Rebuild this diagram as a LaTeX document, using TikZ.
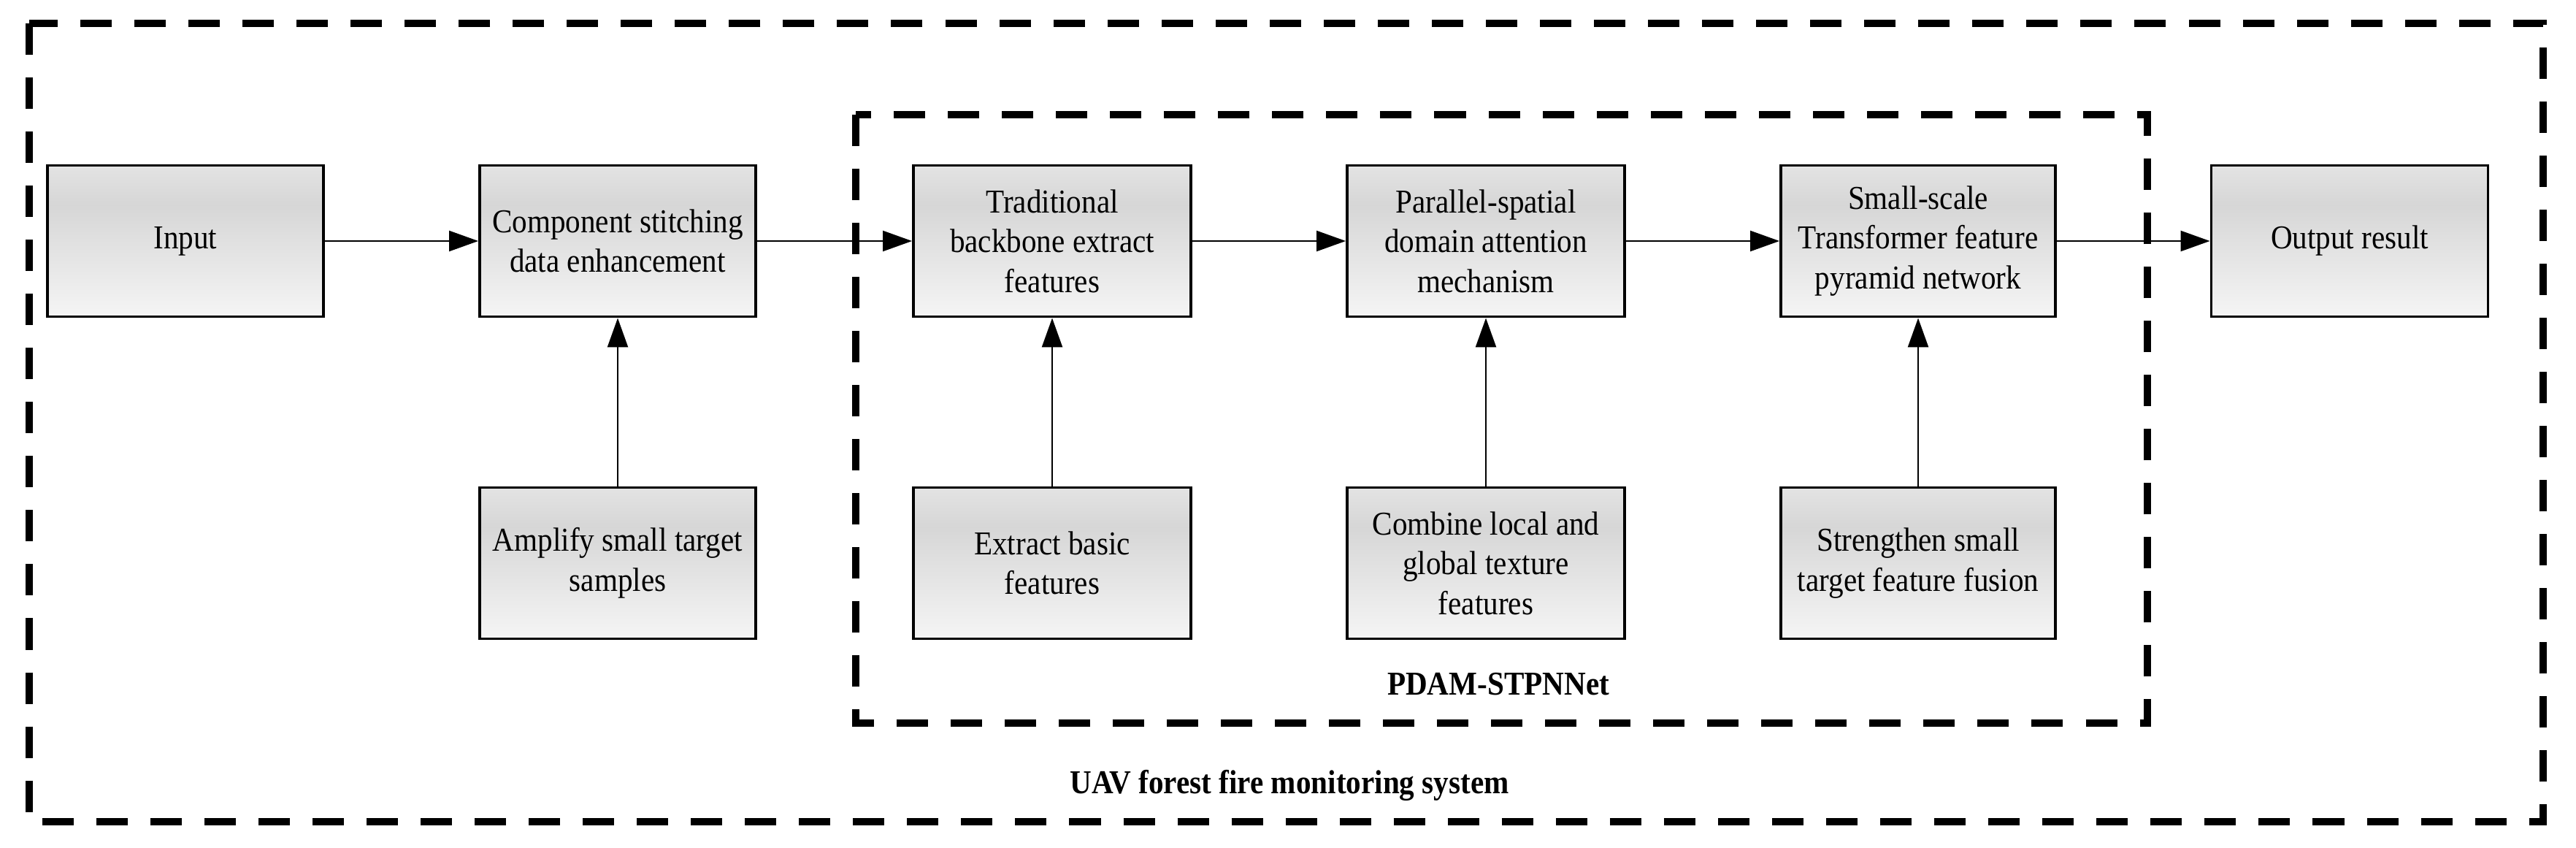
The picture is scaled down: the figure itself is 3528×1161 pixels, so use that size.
\documentclass[tikz,border=0pt]{standalone}
\usepackage{fontspec}
\setmainfont{Liberation Serif}[FakeStretch=0.9]
\usetikzlibrary{arrows.meta}
\pgfdeclareverticalshading{boxsh}{100bp}{color(0bp)=(white); color(25bp)=(white!96!black); color(62bp)=(white!84!black); color(85bp)=(white!93!black); color(100bp)=(white!95!black)}
\begin{document}
\begin{tikzpicture}[x=0.01cm,y=-0.01cm,
  box/.style={draw=black,line width=1.1pt,shading=boxsh,align=center,
    font=\fontsize{13}{15.5}\selectfont,inner sep=0pt},
  frame/.style={line width=2.6pt,dash pattern=on 4.3mm off 3.1mm},
  arr/.style={line width=0.7pt,-{Triangle[length=4mm,width=2.8mm]}},
  lbl/.style={font=\fontsize{13}{15.5}\selectfont\bfseries}]
\useasboundingbox (0,0) rectangle (3528,1161);
\draw[frame] (40,32) rectangle (3483,1125);
\draw[frame] (1172,157) rectangle (2941,990);
\newcommand{\bx}[6]{\node[box,minimum width=#3*0.01cm,minimum height=#4*0.01cm] (#1) at (#2,#5) {#6};}
\bx{in}{254}{378}{207}{330}{Input}
\bx{cs}{846}{378}{207}{330}{Component stitching\\data enhancement}
\bx{tb}{1441}{380}{207}{330}{Traditional\\backbone extract\\features}
\bx{ps}{2035}{380}{207}{330}{Parallel-spatial\\domain attention\\mechanism}
\bx{ss}{2627}{376}{207}{330}{Small-scale\\Transformer feature\\pyramid network}
\bx{out}{3218}{379}{207}{330}{Output result}
\bx{am}{846}{378}{207}{771}{Amplify small target\\samples}
\bx{eb}{1441}{380}{207}{771}{Extract basic\\features}
\bx{cl}{2035}{380}{207}{771}{Combine local and\\global texture\\features}
\bx{sf}{2627}{376}{207}{771}{Strengthen small\\target feature fusion}
\draw[arr] (in) -- (cs);
\draw[arr] (cs) -- (tb);
\draw[arr] (tb) -- (ps);
\draw[arr] (ps) -- (ss);
\draw[arr] (ss) -- (out);
\draw[arr] (am) -- (cs);
\draw[arr] (eb) -- (tb);
\draw[arr] (cl) -- (ps);
\draw[arr] (sf) -- (ss);
\node[lbl] (pdam) at (2052,937) {PDAM-STPNNet};
\node[lbl] (uav) at (1766,1075) {UAV forest fire monitoring system};
\end{tikzpicture}
\end{document}
